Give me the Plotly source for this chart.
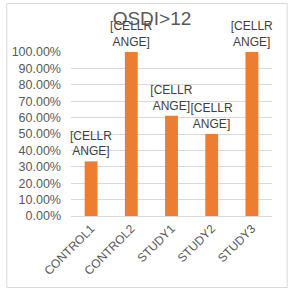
import plotly.graph_objects as go

categories = ["CONTROL1", "CONTROL2", "STUDY1", "STUDY2", "STUDY3"]
values = [0.333, 1.0, 0.611, 0.50, 1.0]
labels = ["[CELLR<br>ANGE]"] * 5
title = "OSDI>12"

L, R, T, B = 67, 18, 52, 79
W, H = 290, 295
pw, ph = W - L - R, H - T - B

fig = go.Figure(go.Bar(
    x=categories, y=values, text=labels, textposition="outside",
    constraintext="none",
    textfont=dict(family="Liberation Sans, Arial", size=12, color="#404040"),
    marker=dict(color="#ED7D31", line=dict(width=0)),
    width=0.32, cliponaxis=False,
))

def px(x):
    return (x - L) / pw

def py(y):
    return (H - B - y) / ph

fig.add_shape(type="rect", xref="paper", yref="paper",
              x0=px(1.5), x1=px(287.5), y0=py(287.5), y1=py(3.5),
              line=dict(color="#d9d9d9", width=1), fillcolor="rgba(0,0,0,0)", layer="below")

fig.update_layout(
    width=W, height=H,
    margin=dict(l=L, r=R, t=T, b=B, pad=0),
    paper_bgcolor="white", plot_bgcolor="white",
    showlegend=False,
    title=dict(text=title, x=152 / W, xanchor="center", y=1 - 18 / H, yanchor="middle",
               font=dict(family="Liberation Sans, Arial", size=19, color="#595959")),
    font=dict(family="Liberation Sans, Arial", color="#595959"),
)
fig.update_xaxes(tickangle=-45, tickfont=dict(size=12, color="#595959"),
                 showline=True, linecolor="#d9d9d9", ticks="", showgrid=False)
fig.update_yaxes(range=[0, 1], dtick=0.1, tickformat=".2%",
                 tickfont=dict(size=12.5, color="#595959"),
                 showgrid=True, gridcolor="#d9d9d9", gridwidth=1,
                 zeroline=False, showline=False, ticks="", ticklabelstandoff=9)
fig.write_html("out.html")
